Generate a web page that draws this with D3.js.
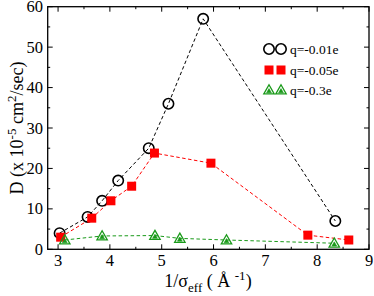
<!DOCTYPE html>
<html><head><meta charset="utf-8">
<script src="https://cdn.jsdelivr.net/npm/d3@7"></script>
<style>body{margin:0;background:#fff}svg{display:block}</style>
</head><body>
<svg id="c" width="374" height="296" font-family="Liberation Serif"></svg>
<script>
const seriesNames = ["q=-0.01e","q=-0.05e","q=-0.3e"];
const xA = [3.03,3.57,3.85,4.16,4.75,5.13,5.80,8.35];
const yA = [4.0,8.0,12.0,17.0,25.0,36.0,57.0,7.0];
const xB = [3.05,3.65,4.02,4.42,4.86,5.95,7.82,8.61];
const yB = [3.0,7.7,12.0,15.6,23.8,21.3,3.5,2.3];
const xC = [3.13,3.85,4.87,5.35,6.25,8.33];
const yC = [2.3,3.3,3.4,2.7,2.3,1.5];
const xTicks = [3,4,5,6,7,8,9];
const yTicks = [0,10,20,30,40,50,60];

const svg = d3.select("#c");
const L=47.7,R=369,T=6.7,B=249.3;
const x = d3.scaleLinear().domain([2.8,9]).range([L,R]);
const y = d3.scaleLinear().domain([0,60]).range([B,T]);

svg.append("rect").attr("x",L).attr("y",T).attr("width",R-L).attr("height",B-T)
  .attr("fill","none").attr("stroke","#000").attr("stroke-width",1.3);

const xMinor = d3.range(3,9.01,0.5), yMinor = d3.range(0,60.01,5);
const tg = svg.append("g").attr("stroke","#000").attr("stroke-width",1);
xMinor.forEach(v=>{const len = Number.isInteger(v)?5:2.5;
  tg.append("line").attr("x1",x(v)).attr("x2",x(v)).attr("y1",B).attr("y2",B-len);
  tg.append("line").attr("x1",x(v)).attr("x2",x(v)).attr("y1",T).attr("y2",T+len);});
yMinor.forEach(v=>{const len = v%10===0?5:2.5;
  tg.append("line").attr("y1",y(v)).attr("y2",y(v)).attr("x1",L).attr("x2",L+len);
  tg.append("line").attr("y1",y(v)).attr("y2",y(v)).attr("x1",R).attr("x2",R-len);});

svg.append("g").selectAll("text").data(xTicks).join("text")
  .attr("x",d=>x(d)).attr("y",266).attr("text-anchor","middle").attr("font-size",16.5).text(d=>d);
svg.append("g").selectAll("text").data(yTicks).join("text")
  .attr("x",43).attr("y",d=>y(d)+5.6).attr("text-anchor","end").attr("font-size",16.5).text(d=>d);

const xt = svg.append("text").attr("x",208).attr("y",287).attr("text-anchor","middle").attr("font-size",18);
xt.append("tspan").text("1/σ");
xt.append("tspan").attr("dy",5).attr("font-size",13).text("eff");
xt.append("tspan").attr("dy",-5).text(" ( Å ");
xt.append("tspan").attr("dy",-7).attr("font-size",13).text("-1");
xt.append("tspan").attr("dy",7).text(")");

const yt = svg.append("text").attr("transform","translate(23,128) rotate(-90)").attr("text-anchor","middle").attr("font-size",18);
yt.append("tspan").text("D (x 10");
yt.append("tspan").attr("dy",-7).attr("font-size",13).text("-5");
yt.append("tspan").attr("dy",7).text(" cm");
yt.append("tspan").attr("dy",-7).attr("font-size",13).text("2");
yt.append("tspan").attr("dy",7).text("/sec)");

const line = d3.line().x(d=>x(d[0])).y(d=>y(d[1]));
const dA = xA.map((v,i)=>[v,yA[i]]), dB = xB.map((v,i)=>[v,yB[i]]), dC = xC.map((v,i)=>[v,yC[i]]);
const colors = ["#000","#ff0000","#1a9a1a"];
[dA,dB,dC].forEach((d,i)=>{
  svg.append("path").attr("d",line(d)).attr("fill","none").attr("stroke",colors[i])
    .attr("stroke-width",1).attr("stroke-dasharray","3.5,2.5");
});

function circle(g,cx,cy){g.append("circle").attr("cx",cx).attr("cy",cy).attr("r",5.2)
  .attr("fill","none").attr("stroke","#000").attr("stroke-width",1.6);}
function square(g,cx,cy){g.append("rect").attr("x",cx-4.5).attr("y",cy-4.5).attr("width",9).attr("height",9).attr("fill","#ff0000");}
function tri(g,cx,cy){
  const s=5.2;
  g.append("path").attr("d",`M${cx},${cy-s}L${cx+s},${cy+s*0.75}L${cx-s},${cy+s*0.75}Z`)
   .attr("fill","none").attr("stroke","#1a9a1a").attr("stroke-width",1.3);
  const t=2.4;
  g.append("path").attr("d",`M${cx},${cy-t+1}L${cx+t},${cy+t*0.75+1}L${cx-t},${cy+t*0.75+1}Z`)
   .attr("fill","#1a9a1a").attr("stroke","#1a9a1a").attr("stroke-width",0.6);
}
const mg = svg.append("g");
dA.forEach(d=>circle(mg,x(d[0]),y(d[1])));
dB.forEach(d=>square(mg,x(d[0]),y(d[1])));
dC.forEach(d=>tri(mg,x(d[0]),y(d[1])));

const lg = svg.append("g");
const ly=[49,70,90], makers=[circle,square,tri];
seriesNames.forEach((n,i)=>{
  makers[i](lg,269,ly[i]); makers[i](lg,281,ly[i]);
  lg.append("text").attr("x",290).attr("y",ly[i]+4.5).attr("font-size",13.5).text(n);
});
</script>
</body></html>
